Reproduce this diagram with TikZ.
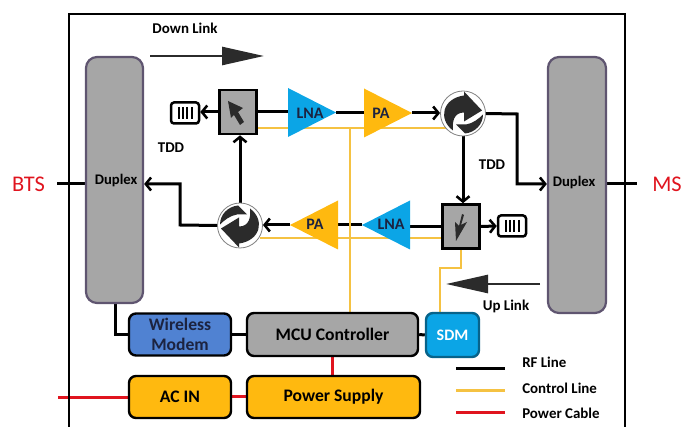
\documentclass[tikz,border=0pt]{standalone}
\usepackage{fontspec}
\setmainfont{Carlito}
\usetikzlibrary{arrows.meta,shapes.geometric,calc}
\newdimen\pxu \pxu=0.75pt
\definecolor{dupfill}{HTML}{A6A6A6}
\definecolor{dupedge}{HTML}{5F5570}
\definecolor{ctl}{HTML}{F5C242}
\definecolor{pwr}{HTML}{E0141E}
\definecolor{lnab}{HTML}{0BA5E6}
\definecolor{paor}{HTML}{FFB90F}
\definecolor{modem}{HTML}{5082D2}
\definecolor{darkt}{HTML}{1C2340}
\definecolor{glyph}{HTML}{2B2B2B}
\pgfdeclarelayer{back}
\pgfsetlayers{back,main}
\tikzset{
 lbl/.style={font=\fontsize{11.2pt}{12pt}\bfseries,inner sep=0pt,text=black},
 duplexbox/.style={draw=dupedge,fill=dupfill,line width=2.2\pxu,rounded corners=11\pxu,inner sep=0pt},
 duplextext/.style={font=\fontsize{11pt}{12pt}\bfseries,inner sep=0pt},
 block/.style={draw=black,line width=2.4\pxu,rounded corners=7\pxu,inner sep=0pt,font=\fontsize{13.2pt}{15pt}\bfseries,align=center},
 isobox/.style={draw=black,fill=dupfill,line width=2.6\pxu,inner sep=0pt,minimum width=37\pxu,minimum height=44\pxu},
 term/.style={draw=black,fill=white,line width=2.5\pxu,rounded corners=3\pxu,inner sep=0pt,minimum width=28\pxu,minimum height=21\pxu},
 circu/.style={circle,draw=gray,fill=white,line width=0.8\pxu,minimum size=45\pxu,inner sep=0pt},
 tri/.style={shape=isosceles triangle,isosceles triangle stretches,isosceles triangle apex angle=55,inner sep=0pt,outer sep=0pt,minimum width=49\pxu,minimum height=48\pxu},
 trilabel/.style={font=\fontsize{12pt}{13pt}\bfseries,text=darkt,inner sep=0pt},
 rf/.style={draw=black,line width=3\pxu},
 rfa/.style={rf,-{Straight Barb[length=4pt,width=9.75pt,line width=1.9pt]}},
 ctlline/.style={draw=ctl,line width=2.2\pxu},
 pwrline/.style={draw=pwr,line width=3\pxu},
 bigarrow/.style={draw=glyph,line width=2.6\pxu,-{Triangle[length=31.5pt,width=13.5pt,fill=glyph]}},
 frameline/.style={draw=black,line width=2.4\pxu},
 endlabel/.style={font=\fontsize{16.8pt}{18pt}\selectfont,text=pwr,inner sep=0pt}
}
\newcommand{\recyc}[2]{%
 \begin{scope}[shift={(#1)},rotate=#2]
 \fill[glyph] (-10,17) .. controls (-25,6) and (-21,-15) .. (1,-18) -- (1,-22) -- (19,-3) -- (1,8) -- (1,-1) .. controls (-9,-1) and (-11,8) .. (-10,17) -- cycle;
 \fill[glyph] (20,1) .. controls (20,11) and (12,19) .. (2,20) -- (-7,11) -- (3,11) .. controls (10,10) and (16,5) .. (20,1) -- cycle;
 \end{scope}}
\begin{document}
\begin{tikzpicture}[x=0.75pt,y=-0.75pt]
\useasboundingbox (0,0) rectangle (682,427);
% frame
\coordinate (fbl) at (69,427); \coordinate (ftl) at (69,14); \coordinate (ftr) at (625,14); \coordinate (fbr) at (625,427);
\draw[frameline] (fbl) -- (ftl) -- (ftr) -- (fbr);
% main blocks
\node[duplexbox,minimum width=57\pxu,minimum height=246\pxu] (dupL) at (114.5,180) {};
\node[duplextext] (dupLt) at (116,181) {Duplex};
\node[duplexbox,minimum width=58\pxu,minimum height=256\pxu] (dupR) at (577,185) {};
\node[duplextext] (dupRt) at (574,183) {Duplex};
\node[block,fill=modem,text=darkt,minimum width=102\pxu,minimum height=42\pxu] (wm) at (180,334.5) {Wireless\\[-0.5pt]Modem};
\node[block,fill=dupfill,minimum width=171\pxu,minimum height=43\pxu] (mcu) at (332.5,334.5) {MCU Controller};
\node[block,draw=lnab!60!black,fill=lnab,text=white,minimum width=53\pxu,minimum height=44\pxu,font=\fontsize{12pt}{13pt}\bfseries] (sdm) at (452.5,335) {SDM};
\node[block,fill=paor,minimum width=102\pxu,minimum height=42\pxu] (ac) at (180,397) {AC IN};
\node[block,fill=paor,minimum width=173\pxu,minimum height=42\pxu] (psu) at (333.5,397) {Power Supply};
% isolators
\node[isobox] (isoT) at (238,112) {};
\node[isobox] (isoB) at (461,226.5) {};
\fill[glyph] (228,101) -- (243,108) -- (238,112) -- (244,122) -- (240,125) -- (234,115) -- (231,118) -- cycle;
\fill[glyph] (456,241) -- (455,222) -- (459,226) -- (462,214) -- (464,215) -- (461,225) -- (467,222) -- cycle;
% terminators
\node[term] (termT) at (185,113) {};
\node[term] (termB) at (512,226) {};
\foreach \bx in {-6.5,-2.2,2.2,6.5}{
 \draw[black,line width=2\pxu] ($(termT)+(\bx,-6)$) -- ($(termT)+(\bx,6)$);
 \draw[black,line width=2\pxu] ($(termB)+(\bx,-6)$) -- ($(termB)+(\bx,6)$);
}
% amplifiers
\node[tri,fill=lnab,anchor=apex] (lnaT) at (336,112.5) {};
\node[trilabel] (lnaTt) at (310,113) {LNA};
\node[tri,fill=paor,anchor=apex] (paT) at (412,113) {};
\node[trilabel] (paTt) at (381,113) {PA};
\node[tri,fill=lnab,shape border rotate=180,anchor=apex] (lnaB) at (362,225) {};
\node[trilabel] (lnaBt) at (391,224) {LNA};
\node[tri,fill=paor,shape border rotate=180,anchor=apex] (paB) at (290,225) {};
\node[trilabel] (paBt) at (315,224) {PA};
% circulators
\node[circu] (cirT) at (463,113.5) {};
\node[circu] (cirB) at (240,225.5) {};
\recyc{cirT}{0}
\recyc{cirB}{180}
% free ends
\coordinate (bts) at (57,184); \coordinate (ms) at (637,184);
\coordinate (acin) at (58,398);
\coordinate (c1) at (180,225); \coordinate (c2) at (180,184);
\coordinate (c3) at (517,114); \coordinate (c4) at (517,184);
\coordinate (m1) at (115,335);
\coordinate (dl1) at (150,56); \coordinate (dl2) at (264,56);
\coordinate (ul1) at (540,284); \coordinate (ul2) at (446,284);
\coordinate (y1) at (257,128); \coordinate (y2) at (447,128);
\coordinate (y3) at (260,238); \coordinate (y4) at (443,238);
\coordinate (yv1) at (350,128); \coordinate (yv2) at (350,313);
\coordinate (yb1) at (461,249); \coordinate (yb2) at (461,268); \coordinate (yb3) at (440,268); \coordinate (yb4) at (440,313);
\begin{pgfonlayer}{back}
 \draw[rf] (bts) -- (dupL.west |- bts);
 \draw[rf] (dupR.east |- ms) -- (ms);
 \draw[rfa] (cirB.west) -- (c1) -- (c2) -- (dupL.east |- c2);
 \draw[rfa] (cirB.north) -- (isoT.south -| cirB.north);
 \draw[rfa] (isoT.west) -- (termT.east |- isoT.west);
 \draw[rf] (isoT.east) -- (lnaT.lower side |- isoT.east);
 \draw[rf] (lnaT.apex) -- (paT.lower side |- lnaT.apex);
 \draw[rfa] (paT.apex) -- (cirT.west |- paT.apex);
 \draw[rfa] (cirT.east) -- (c3) -- (c4) -- (dupR.west |- c4);
 \draw[rfa] (cirT.south) -- (isoB.north -| cirT.south);
 \draw[rf] (isoB.west) -- (lnaB.lower side |- isoB.west);
 \draw[rf] (lnaB.apex) -- (paB.lower side |- lnaB.apex);
 \draw[rfa] (paB.apex) -- (cirB.east |- paB.apex);
 \draw[rfa] (isoB.east) -- (termB.west);
 \draw[rf] (dupL.south -| m1) -- (m1) -- (wm.west |- m1);
 \draw[rf] (wm.east) -- (mcu.west);
 \draw[rf] (mcu.east) -- (sdm.west);
 \draw[ctlline] (y1) -- (y2);
 \draw[ctlline] (y3) -- (y4);
 \draw[ctlline] (yv1) -- (yv2);
 \draw[ctlline] (yb1) -- (yb2) -- (yb3) -- (yb4);
 \draw[pwrline] (acin) -- (ac.west |- acin);
 \draw[pwrline] (ac.east) -- (psu.west);
 \draw[pwrline] (mcu.south) -- (psu.north -| mcu.south);
\end{pgfonlayer}
% flow arrows
\draw[bigarrow] (dl1) -- (dl2);
\draw[bigarrow] (ul1) -- (ul2);
% labels
\node[lbl] (tdown) at (185,28) {Down Link};
\node[lbl] (tup) at (506,306) {Up Link};
\node[lbl] (tdd1) at (171,148) {TDD};
\node[lbl] (tdd2) at (492,165) {TDD};
\node[endlabel] (tbts) at (28.5,184) {BTS};
\node[endlabel] (tms) at (667,184) {MS};
% legend
\coordinate (l1a) at (456,369); \coordinate (l1b) at (505,369);
\coordinate (l2a) at (456,391); \coordinate (l2b) at (505,391);
\coordinate (l3a) at (456,413); \coordinate (l3b) at (505,413);
\draw[black,line width=3\pxu] (l1a) -- (l1b);
\draw[ctl,line width=3\pxu] (l2a) -- (l2b);
\draw[pwr,line width=3\pxu] (l3a) -- (l3b);
\node[lbl,anchor=west] (tl1) at (522,362) {RF Line};
\node[lbl,anchor=west] (tl2) at (522,388) {Control Line};
\node[lbl,anchor=west] (tl3) at (522,413) {Power Cable};
\end{tikzpicture}
\end{document}
